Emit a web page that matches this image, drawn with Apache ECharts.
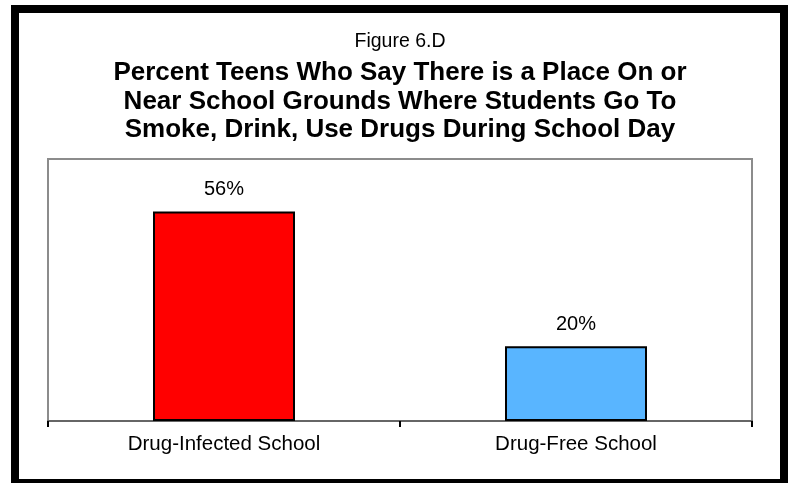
<!DOCTYPE html>
<html>
<head>
<meta charset="utf-8">
<script src="https://cdn.jsdelivr.net/npm/echarts@6/dist/echarts.min.js"></script>
<style>
html,body{margin:0;padding:0;background:#fff;}
#chart{width:791px;height:483px;}
</style>
</head>
<body>
<div id="chart"></div>
<script>
var figureLabel = 'Figure 6.D';
var titleLines = [
  'Percent Teens Who Say There is a Place On or',
  'Near School Grounds Where Students Go To',
  'Smoke, Drink, Use Drugs During School Day'
];
var categories = ['Drug-Infected School', 'Drug-Free School'];
var values = [56, 20];
var barColors = ['#FF0000', '#59B5FF'];

var FONT = '"Liberation Sans", Arial, sans-serif';
var chart = echarts.init(document.getElementById('chart'), null, {renderer: 'canvas'});

chart.setOption({
  backgroundColor: '#ffffff',
  animation: false,
  graphic: [
    {
      type: 'rect',
      shape: {x: 15, y: 9, width: 769, height: 474},
      style: {fill: 'none', stroke: '#000', lineWidth: 8},
      z: 100
    },
    {
      type: 'text',
      x: 400, y: 42,
      style: {
        text: figureLabel,
        fill: '#000',
        font: '19.5px ' + FONT,
        align: 'center',
        verticalAlign: 'middle'
      }
    },
    {
      type: 'text',
      x: 400, y: 101.5,
      style: {
        text: titleLines.join('\n'),
        fill: '#000',
        font: 'bold 26px ' + FONT,
        lineHeight: 28.5,
        align: 'center',
        verticalAlign: 'middle'
      }
    }
  ],
  grid: {
    left: 48, right: 39, top: 159, bottom: 62,
    show: true,
    borderColor: '#8c8c8c',
    borderWidth: 2,
    backgroundColor: 'transparent'
  },
  xAxis: {
    type: 'category',
    data: categories,
    axisLine: {show: true, lineStyle: {color: '#666', width: 2}},
    axisTick: {show: true, length: 6, lineStyle: {color: '#000', width: 2}},
    axisLabel: {
      color: '#000',
      fontFamily: FONT,
      fontSize: 20.5,
      margin: 13
    },
    splitLine: {show: false}
  },
  yAxis: {
    type: 'value',
    min: 0,
    max: 70,
    show: false,
    splitLine: {show: false}
  },
  series: [{
    type: 'bar',
    data: values.map(function (v, i) {
      return {value: v, itemStyle: {color: barColors[i]}};
    }),
    barWidth: 142,
    itemStyle: {borderColor: '#000', borderWidth: 2},
    label: {
      show: true,
      position: 'top',
      distance: 12,
      formatter: '{c}%',
      color: '#000',
      fontFamily: FONT,
      fontSize: 20
    }
  }]
});
</script>
</body>
</html>
